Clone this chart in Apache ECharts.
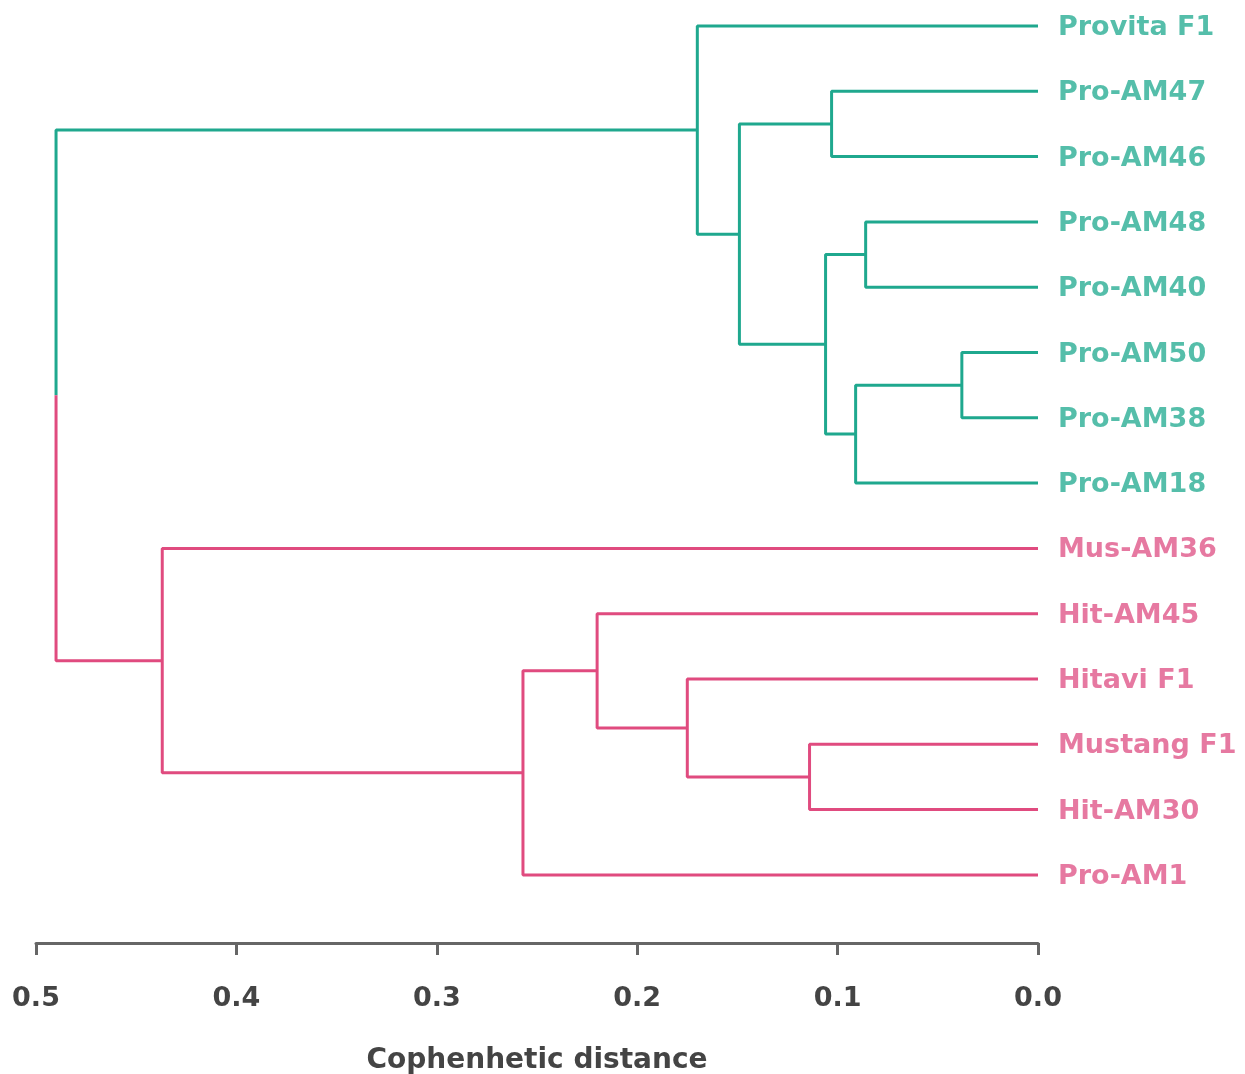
<!DOCTYPE html>
<html><head><meta charset="utf-8">
<script src="https://cdn.jsdelivr.net/npm/echarts@6/dist/echarts.min.js"></script>
<style>html,body{margin:0;padding:0;background:#fff}#c{width:1245px;height:1074px}</style>
</head><body><div id="c"></div>
<script>
// Leaves in display order (top to bottom)
var leaves = ['Provita F1','Pro-AM47','Pro-AM46','Pro-AM48','Pro-AM40','Pro-AM50','Pro-AM38','Pro-AM18','Mus-AM36','Hit-AM45','Hitavi F1','Mustang F1','Hit-AM30','Pro-AM1'];
// Cluster of each leaf (0 = teal, 1 = pink)
var leafCluster = [0,0,0,0,0,0,0,0,1,1,1,1,1,1];
// Linkage: [left child, right child, cophenetic height]; new nodes numbered from 14
var mergeLeft   = [5, 3, 14, 1, 15, 17, 0, 11, 10, 9, 23, 8, 20];
var mergeRight  = [6, 4, 7, 2, 16, 18, 19, 12, 21, 22, 13, 24, 25];
var mergeHeight = [0.038, 0.086, 0.091, 0.103, 0.106, 0.149, 0.170, 0.114, 0.175, 0.220, 0.257, 0.437, 0.490];
var colors = ['#1fa88e', '#e04b7f'];
var labelColors = ['#2aae95', '#e0588a'];

var n = leaves.length;
var nodeY = [], nodeH = [], nodeC = [];
for (var i = 0; i < n; i++) { nodeY[i] = i; nodeH[i] = 0; nodeC[i] = leafCluster[i]; }
var series = [];
function addLine(pts, c) {
  series.push({type: 'line', data: pts, symbol: 'none', silent: true, animation: false,
    lineStyle: {color: colors[c], width: 3}, z: 2});
}
for (var k = 0; k < mergeLeft.length; k++) {
  var a = mergeLeft[k], b = mergeRight[k], h = mergeHeight[k], id = n + k;
  nodeY[id] = (nodeY[a] + nodeY[b]) / 2;
  nodeH[id] = h;
  if (nodeC[a] === nodeC[b]) {
    nodeC[id] = nodeC[a];
    addLine([[nodeH[a], nodeY[a]], [h, nodeY[a]], [h, nodeY[b]], [nodeH[b], nodeY[b]]], nodeC[a]);
  } else {
    nodeC[id] = -1;
    var mid = nodeY[id];
    addLine([[nodeH[a], nodeY[a]], [h, nodeY[a]], [h, mid]], nodeC[a]);
    addLine([[h, mid], [h, nodeY[b]], [nodeH[b], nodeY[b]]], nodeC[b]);
  }
}
series.push({
  type: 'scatter', symbolSize: 0, silent: true, animation: false,
  data: leaves.map(function (name, i) {
    return {value: [0, i], name: name, label: {color: labelColors[leafCluster[i]]}};
  }),
  label: {show: true, position: 'right', distance: 20, offset: [0, 2], formatter: '{b}',
    fontFamily: 'DejaVu Sans', fontWeight: 'bold', fontSize: 27}
});

var chart = echarts.init(document.getElementById('c'), null, {renderer: 'canvas'});
chart.setOption({
  backgroundColor: '#fff',
  grid: {left: 36, right: 207, top: 10, bottom: 131, containLabel: false, outerBoundsMode: 'none'},
  xAxis: {
    type: 'value', min: 0, max: 0.5, interval: 0.1, inverse: true, position: 'bottom',
    name: 'Cophenhetic distance', nameLocation: 'middle', nameGap: 104,
    nameTextStyle: {fontFamily: 'DejaVu Sans', fontWeight: 'bold', fontSize: 28, color: '#444'},
    axisLine: {show: true, onZero: false, lineStyle: {color: '#666', width: 3}},
    axisTick: {show: true, length: 12, lineStyle: {color: '#666', width: 3}},
    axisLabel: {margin: 42, fontFamily: 'DejaVu Sans', fontWeight: 'bold', fontSize: 27, color: '#444',
      formatter: function (v) { return v.toFixed(1); }},
    splitLine: {show: false}
  },
  yAxis: {
    type: 'value', min: -0.245, max: 14.043, inverse: true, show: false
  },
  series: series
});
</script></body></html>
